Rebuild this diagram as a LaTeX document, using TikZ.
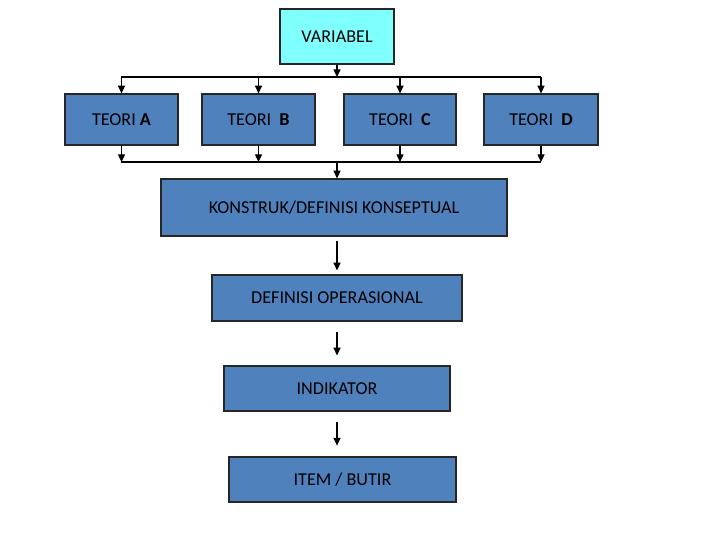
\documentclass[tikz,border=0pt]{standalone}
\usepackage{fontspec}
\setmainfont{Carlito}
\usepackage{xcolor}
\usepackage{tikz}
\usetikzlibrary{arrows.meta,calc,positioning}
\definecolor{biru}{HTML}{4F81BD}
\definecolor{sian}{HTML}{80FFFF}
\tikzset{
  kotak/.style={draw=black!85,fill=biru,line width=0.8pt,inner sep=0pt,font=\fontsize{12.9}{15}\selectfont},
  atas/.style={kotak,fill=sian},
  panah/.style={-{Triangle[length=5.5pt,width=5pt]},line width=1pt},
  garis/.style={line width=1pt}
}
\begin{document}
\begin{tikzpicture}[x=0.025cm,y=-0.025cm]
\useasboundingbox (0,0) rectangle (720,540);
% variabel dan teori
\node[atas,minimum width=2.85cm,minimum height=1.375cm] (var) at (337,36.5) {VARIABEL};
\node[kotak,minimum width=2.825cm,minimum height=1.275cm] (tA) at (121.5,119.5) {TEORI \textbf{A}};
\node[kotak,minimum width=2.825cm,minimum height=1.275cm] (tB) at (258.5,119.5) {TEORI\ \ \textbf{B}};
\node[kotak,minimum width=2.8cm,minimum height=1.275cm] (tC) at (400,119.5) {TEORI\ \ \textbf{C}};
\node[kotak,minimum width=2.85cm,minimum height=1.275cm] (tD) at (541,119.5) {TEORI\ \ \textbf{D}};
% rantai ke bawah
\node[kotak,minimum width=8.65cm,minimum height=1.425cm] (kon) at (334,207.5) {KONSTRUK/DEFINISI KONSEPTUAL};
\node[kotak,minimum width=6.25cm,minimum height=1.15cm] (def) at (337,298) {DEFINISI OPERASIONAL};
\node[kotak,minimum width=5.65cm,minimum height=1.125cm] (ind) at (337,388.5) {INDIKATOR};
\node[kotak,minimum width=5.675cm,minimum height=1.125cm] (item) at (342.5,479.5) {ITEM / BUTIR};
% garis pembagi
\coordinate (t1) at (121,77); \coordinate (t4) at (541,77);
\coordinate (b1) at (121,162); \coordinate (b4) at (541,162);
\draw[garis] (t1) -- (t4);
\draw[garis] (b1) -- (b4);
\draw[panah] (var.south) -- (var.south |- t1);
\foreach \t in {tA,tB,tC,tD}{
  \draw[panah] (\t.north |- t1) -- (\t.north);
  \draw[panah] (\t.south) -- (\t.south |- b1);
}
\draw[panah] (var |- b1) -- (var |- kon.north);
\draw[panah,shorten <=0.1cm,shorten >=0.1cm] (var |- kon.south) -- (var |- def.north);
\draw[panah,shorten <=0.25cm,shorten >=0.25cm] (var |- def.south) -- (var |- ind.north);
\draw[panah,shorten <=0.27cm,shorten >=0.27cm] (var |- ind.south) -- (var |- item.north);
\end{tikzpicture}
\end{document}
